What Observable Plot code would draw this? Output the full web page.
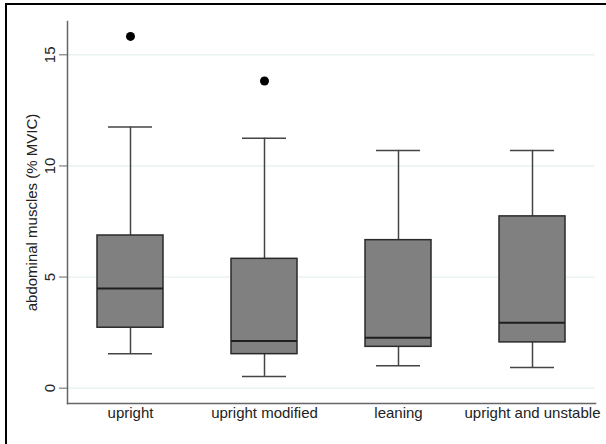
<!DOCTYPE html>
<html>
<head>
<meta charset="utf-8">
<script src="https://cdn.jsdelivr.net/npm/d3@7"></script>
<script src="https://cdn.jsdelivr.net/npm/@observablehq/plot@0.6"></script>
<style>
  html, body { margin: 0; padding: 0; background: #fff; overflow: hidden; }
  #wrap { position: relative; width: 606px; height: 444px; }
  #border { position: absolute; left: 5px; top: 3px; width: 620px; height: 460px;
            border-left: 2px solid #000; border-top: 2px solid #000; pointer-events: none; }
</style>
</head>
<body>
<div id="wrap"><div id="border"></div></div>
<script>
const categories = ["upright", "upright modified", "leaning", "upright and unstable"];
const lowerWhisker = [1.55, 0.53, 1.01, 0.93];
const q1 = [2.72, 1.53, 1.86, 2.06];
const median = [4.49, 2.12, 2.27, 2.94];
const q3 = [6.87, 5.82, 6.66, 7.73];
const upperWhisker = [11.75, 11.25, 10.70, 10.70];
const outlierCategories = ["upright", "upright modified"];
const outlierValues = [15.83, 13.82];
const yTicks = [0, 5, 10, 15];

const boxes = categories.map((c, i) => ({
  cat: c, lo: lowerWhisker[i], q1: q1[i], med: median[i], q3: q3[i], hi: upperWhisker[i]
}));
const outliers = outlierCategories.map((c, i) => ({cat: c, v: outlierValues[i]}));

const font = "'Liberation Sans', Arial, Helvetica, sans-serif";

const chart = Plot.plot({
  width: 606,
  height: 444,
  marginLeft: 67,
  marginRight: 11,
  marginTop: 21,
  marginBottom: 41,
  style: {fontFamily: font, fontSize: "15px", color: "#222", background: "transparent"},
  x: {domain: categories, paddingInner: 0.51, paddingOuter: 0.215},
  y: {domain: [-0.69, 16.5]},
  marks: [
    Plot.ruleY(yTicks, {stroke: "#e6eff1", strokeWidth: 1.2}),
    Plot.ruleX(boxes, {x: "cat", y1: "q3", y2: "hi", stroke: "#444", strokeWidth: 1.5}),
    Plot.ruleX(boxes, {x: "cat", y1: "lo", y2: "q1", stroke: "#444", strokeWidth: 1.5}),
    Plot.tickY(boxes, {x: "cat", y: "hi", stroke: "#444", strokeWidth: 1.5, insetLeft: 11, insetRight: 11}),
    Plot.tickY(boxes, {x: "cat", y: "lo", stroke: "#444", strokeWidth: 1.5, insetLeft: 11, insetRight: 11}),
    Plot.barY(boxes, {x: "cat", y1: "q1", y2: "q3", fill: "#808080", stroke: "#2a2a2a", strokeWidth: 1.5}),
    Plot.tickY(boxes, {x: "cat", y: "med", stroke: "#1e1e1e", strokeWidth: 2}),
    Plot.dot(outliers, {x: "cat", y: "v", r: 4.5, fill: "#000", stroke: "none"}),
    Plot.frame({anchor: "left", stroke: "#666", strokeWidth: 1.5}),
    Plot.frame({anchor: "bottom", stroke: "#666", strokeWidth: 1.5}),
    Plot.axisY({
      ticks: yTicks, tickSize: 8, tickPadding: 5, tickRotate: -90,
      stroke: "#666", fill: "#222", fontSize: 15,
      label: "abdominal muscles (% MVIC)", labelArrow: "none",
      labelAnchor: "center", labelOffset: 41
    }),
    Plot.axisX({tickSize: 0, tickPadding: 4, label: null, fill: "#222", fontSize: 15})
  ]
});
document.getElementById("wrap").appendChild(chart);
chart.style.position = "absolute";
chart.style.left = "0px";
chart.style.top = "0px";
</script>
</body>
</html>
